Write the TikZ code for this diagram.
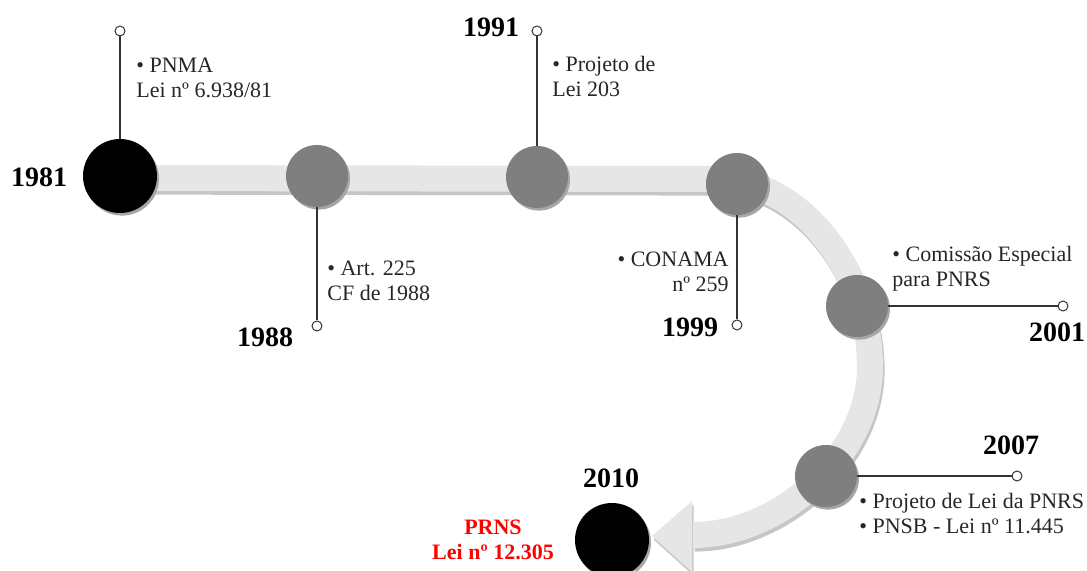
\documentclass[tikz,border=0pt]{standalone}
\usepackage{fontspec}
\setmainfont{Liberation Serif}
\usetikzlibrary{calc}
\definecolor{faixacor}{HTML}{E6E6E6}
\definecolor{sombracor}{HTML}{C6C6C6}
\definecolor{marcocor}{HTML}{7F7F7F}

\tikzset{
  sombreado/.style={preaction={fill=black!35, transform canvas={shift={(1pt,-1.3pt)}}}},
  marco/.style={circle, fill=marcocor, minimum size=31pt, inner sep=0pt, sombreado},
  marcoforte/.style={circle, fill=black, minimum size=37pt, inner sep=0pt, sombreado},
  ponta/.style={circle, draw=black!80, fill=white, minimum size=5pt, inner sep=0pt, line width=0.5pt},
  haste/.style={draw=black!80, line width=0.6pt},
  ano/.style={font=\fontsize{14}{16}\selectfont\bfseries, inner sep=0pt},
  texto/.style={font=\fontsize{11}{12.5}\selectfont, text=black!85, align=left, inner sep=0pt},
  faixa/.style={draw=faixacor, line width=13pt},
  faixasombra/.style={draw=sombracor, line width=13pt, transform canvas={shift={(0.8pt,-1.8pt)}}},
}

\begin{document}
\begin{tikzpicture}[x=0.5pt, y=-0.5pt]
          \useasboundingbox (0,0) rectangle (1087,571);
          % trilho
          \coordinate (t0) at (120,178);
          \coordinate (t1) at (715,179);
          \coordinate (t2) at (870,367);
          \coordinate (t3) at (693,535);
          \coordinate (tip) at (652,536);
          \draw[faixasombra] (t0) -- (t1) .. controls (800,179) and (870,270) .. (t2) .. controls (870,455) and (780,535) .. (t3);
          \fill[sombracor, transform canvas={shift={(0.8pt,-1.8pt)}}] (tip) -- (692,501) -- (692,572) -- cycle;
          \draw[faixa] (t0) -- (t1) .. controls (800,179) and (870,270) .. (t2) .. controls (870,455) and (780,535) .. (t3);
          \fill[faixacor] (tip) -- (692,501) -- (692,572) -- cycle;

          % marcos
          \node[marcoforte] (m81) at (120,176) {};
          \node[marco] (m88) at (317,176) {};
          \node[marco] (m91) at (537,177) {};
          \node[marco] (m99) at (737,184) {};
          \node[marco] (m01) at (857,306) {};
          \node[marco] (m07) at (826,476) {};
          \node[marcoforte] (m10) at (612,540) {};

          % hastes
          \node[ponta, above of=m81, node distance=72.5pt] (p81) {};
          \node[ponta, below of=m88, node distance=75pt] (p88) {};
          \node[ponta, above of=m91, node distance=73pt] (p91) {};
          \node[ponta, below of=m99, node distance=70.5pt] (p99) {};
          \node[ponta, right of=m01, node distance=103pt] (p01) {};
          \node[ponta, right of=m07, node distance=95.5pt] (p07) {};
          \draw[haste] (m81) -- (p81);
          \draw[haste] (m88) -- (p88);
          \draw[haste] (m91) -- (p91);
          \draw[haste] (m99) -- (p99);
          \draw[haste] (m01) -- (p01);
          \draw[haste] (m07) -- (p07);

          % anos e textos
          \node[ano] (a81) at (39,177) {1981};
          \node[texto, anchor=west] (l81) at (136,78) {• PNMA\\Lei nº 6.938/81};
          \node[ano] (a88) at (265,337) {1988};
          \node[texto, anchor=west] (l88) at (327,281) {• Art. 225\\CF de 1988};
          \node[ano] (a91) at (491,27) {1991};
          \node[texto, anchor=west] (l91) at (552,76) {• Projeto de\\Lei 203};
          \node[texto, anchor=east, align=right] (l99) at (729,272) {• CONAMA\\nº 259};
          \node[ano] (a99) at (690,327) {1999};
          \node[texto, anchor=west] (l01) at (892,269) {• Comissão Especial\\para PNRS};
          \node[ano] (a01) at (1057,332) {2001};
          \node[ano] (a07) at (1011,445) {2007};
          \node[texto, anchor=west] (l07) at (859,514) {• Projeto de Lei da PNRS\\• PNSB - Lei nº 11.445};
          \node[ano] (a10) at (611,478) {2010};
          \node[texto, align=center, font=\fontsize{11}{12.5}\selectfont\bfseries, text=red] (l10) at (493,540) {PRNS\\Lei nº 12.305};
        \end{tikzpicture}
\end{document}
